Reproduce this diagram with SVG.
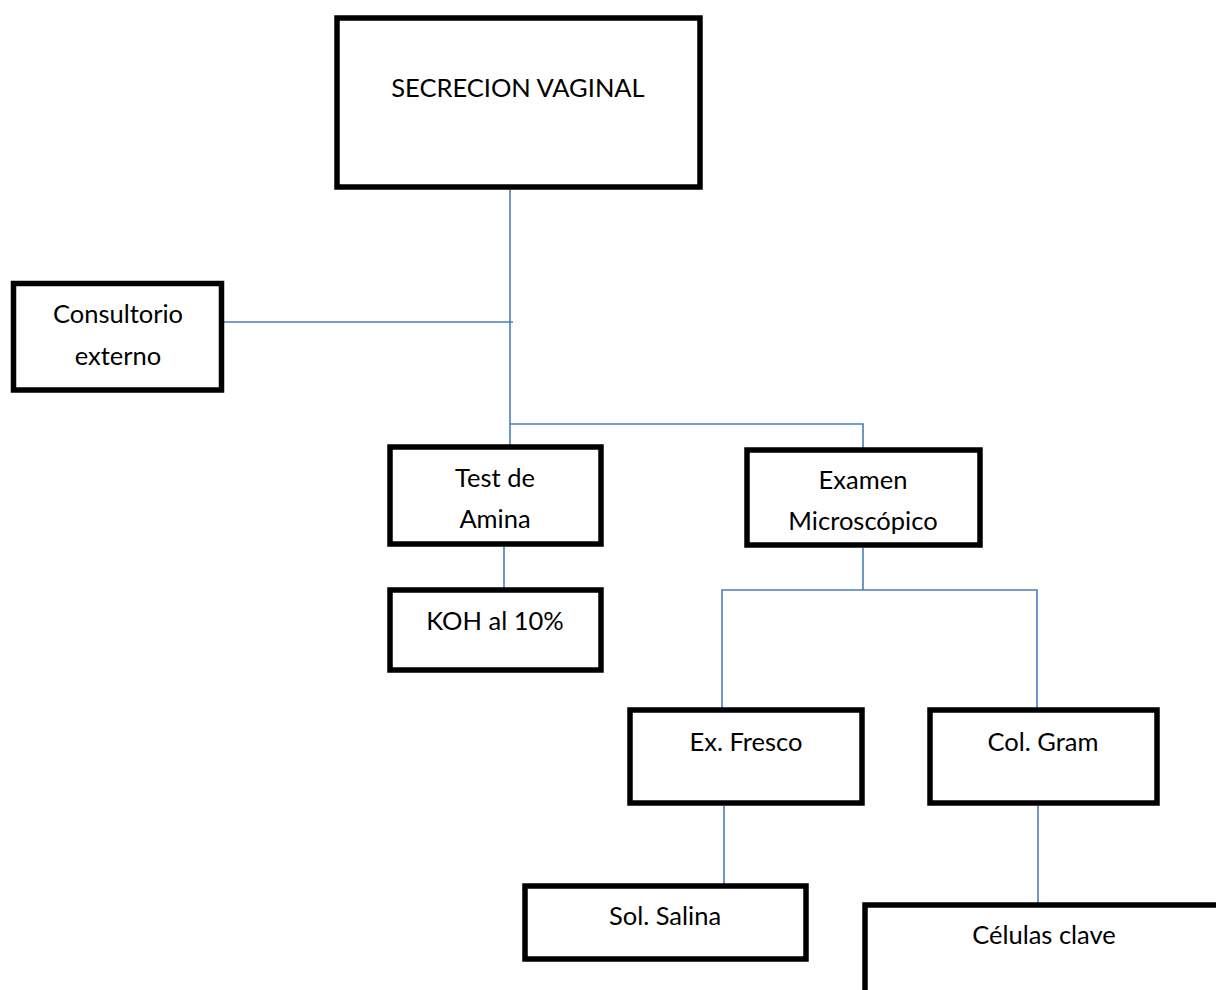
<svg xmlns="http://www.w3.org/2000/svg" width="1216" height="990" viewBox="0 0 1216 990">
<style>
.box{fill:#fff;stroke:#000;stroke-width:5.5}
.t{font-family:Lato,"Open Sans","Liberation Sans",sans-serif;font-size:25.5px;fill:#000;text-anchor:middle}
.c{fill:none;stroke:#4a7ebb;stroke-width:1.6}
</style>
<rect width="1216" height="990" fill="#fff"/>
<g id="connectors">
<line class="c" x1="510" y1="190" x2="510" y2="445"/>
<line class="c" x1="224" y1="322" x2="513" y2="322"/>
<polyline class="c" points="510,424 863,424 863,448"/>
<line class="c" x1="504" y1="547" x2="504" y2="588"/>
<line class="c" x1="863" y1="548" x2="863" y2="590"/>
<polyline class="c" points="722,708 722,590 1037,590 1037,708"/>
<line class="c" x1="724" y1="806" x2="724" y2="884"/>
<line class="c" x1="1038" y1="806" x2="1038" y2="903"/>
</g>
<g id="secrecion">
<rect class="box" x="337" y="18" width="363" height="169"/>
<text class="t" x="518" y="97">SECRECION VAGINAL</text>
</g>
<g id="consultorio">
<rect class="box" x="13.5" y="283.5" width="208" height="106.5"/>
<text class="t" x="118" y="323">Consultorio</text>
<text class="t" x="118" y="365">externo</text>
</g>
<g id="test-amina">
<rect class="box" x="390" y="447" width="211" height="97"/>
<text class="t" x="495" y="487">Test de</text>
<text class="t" x="495" y="528">Amina</text>
</g>
<g id="koh">
<rect class="box" x="390" y="590" width="211" height="80"/>
<text class="t" x="495" y="630">KOH al 10%</text>
</g>
<g id="examen">
<rect class="box" x="747" y="450" width="233" height="95"/>
<text class="t" x="863" y="489">Examen</text>
<text class="t" x="863" y="530">Microscópico</text>
</g>
<g id="ex-fresco">
<rect class="box" x="630" y="710" width="232" height="93"/>
<text class="t" x="746" y="751">Ex. Fresco</text>
</g>
<g id="col-gram">
<rect class="box" x="930" y="710" width="227" height="93"/>
<text class="t" x="1043" y="751">Col. Gram</text>
</g>
<g id="sol-salina">
<rect class="box" x="525" y="886" width="281" height="73"/>
<text class="t" x="665" y="925">Sol. Salina</text>
</g>
<g id="celulas-clave">
<rect class="box" x="865" y="905" width="400" height="120"/>
<text class="t" x="1044" y="944">Células clave</text>
</g>
</svg>
